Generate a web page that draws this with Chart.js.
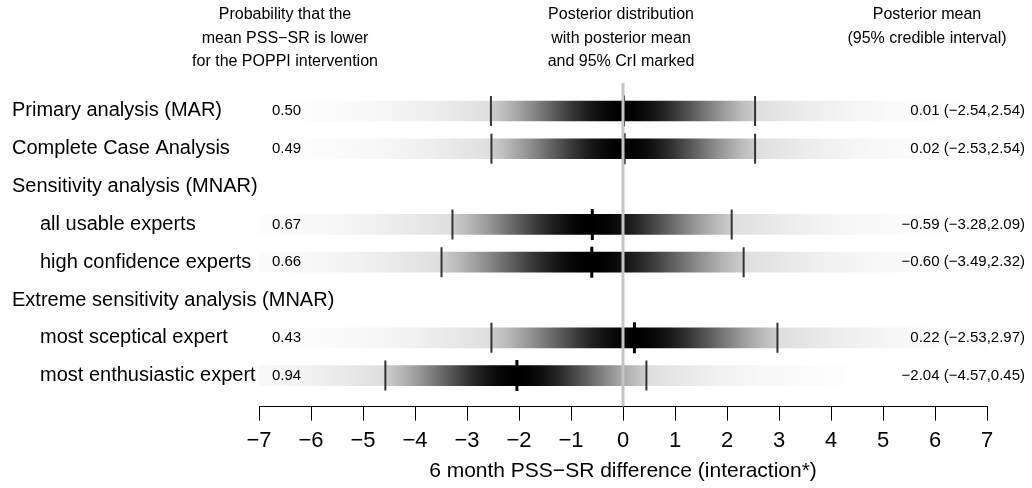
<!DOCTYPE html>
<html lang="en">
<head>
  <meta charset="UTF-8">
  <title>POPPI posterior summaries</title>
  <script src="https://cdn.jsdelivr.net/npm/chart.js"></script>
  <style>
    html, body { margin: 0; padding: 0; background: #fff; }
    #wrap { width: 1032px; height: 488px; }
  </style>
</head>
<body>
  <div id="wrap"><canvas id="strips" width="1032" height="488"></canvas></div>
  <script>
    // Rows, top to bottom (header rows have no data)
    var rowLabels = ['Primary analysis (MAR)', 'Complete Case Analysis', 'Sensitivity analysis (MNAR)',
                     'all usable experts', 'high confidence experts', 'Extreme sensitivity analysis (MNAR)',
                     'most sceptical expert', 'most enthusiastic expert'];
    var rowIndent = [0, 0, 0, 1, 1, 0, 1, 1];
    var probLower = [0.50, 0.49, null, 0.67, 0.66, null, 0.43, 0.94];
    var postMean  = [0.01, 0.02, null, -0.59, -0.60, null, 0.22, -2.04];
    var crLow     = [-2.54, -2.53, null, -3.28, -3.49, null, -2.53, -4.57];
    var crHigh    = [2.54, 2.54, null, 2.09, 2.32, null, 2.97, 0.45];
    var xTicks    = [-7, 7];

    var Z95 = 1.96;
    var SPAN = 5;   // strip runs out to +/- 5 sd
    var dEdge = Math.exp(-Z95 * Z95 / 2);

    function sdOf(i) {
      return [(postMean[i] - crLow[i]) / Z95, (crHigh[i] - postMean[i]) / Z95];
    }

    // grey level for a value inside the strip: dark inside the CrI, pale outside
    function shade(i, v) {
      var sd = sdOf(i);
      var z = (v - postMean[i]) / (v < postMean[i] ? sd[0] : sd[1]);
      var d = Math.exp(-z * z / 2);
      var g;
      if (Math.abs(z) <= Z95 + 1e-9) g = 255 * (1 - Math.pow(d, 0.85));
      else g = 255 - 33 * Math.pow(d / dEdge, 0.3);
      g = Math.round(Math.max(0, Math.min(255, g)));
      return 'rgb(' + g + ',' + g + ',' + g + ')';
    }

    function minus(v, dp) {
      var s = Math.abs(v).toFixed(dp);
      return v < 0 ? '\u2212' + s : s;
    }

    var stripData = [], ciData = [], meanData = [];
    rowLabels.forEach(function (lab, i) {
      if (postMean[i] === null) return;
      var sd = sdOf(i);
      stripData.push({ y: i, x: [postMean[i] - SPAN * sd[0], postMean[i] + SPAN * sd[1]], row: i });
      ciData.push({ x: crLow[i], y: i });
      ciData.push({ x: crHigh[i], y: i });
      meanData.push({ x: postMean[i], y: i });
    });

    var yMin = -0.74, yMax = 7.82;

    function stripFill(c) {
      var chart = c.chart;
      if (!chart.chartArea || c.raw === undefined) return '#ccc';
      var i = c.raw.row;
      var xs = chart.scales.x;
      var a = c.raw.x[0], b = c.raw.x[1];
      var pa = xs.getPixelForValue(a), pb = xs.getPixelForValue(b);
      var grad = chart.ctx.createLinearGradient(pa, 0, pb, 0);
      var n = 120;
      for (var k = 0; k <= n; k++) {
        var v = a + (b - a) * k / n;
        grad.addColorStop(k / n, shade(i, v));
      }
      // hard step at the interval ends
      [crLow[i], crHigh[i]].forEach(function (e) {
        var t = (e - a) / (b - a);
        var left = e < postMean[i];
        var inner = shade(i, e + (left ? 1e-6 : -1e-6));
        var outer = shade(i, e + (left ? -1e-3 : 1e-3));
        if (left) { grad.addColorStop(t, outer); grad.addColorStop(t, inner); }
        else { grad.addColorStop(t, inner); grad.addColorStop(t, outer); }
      });
      return grad;
    }

    var FONT = '"Liberation Sans", Arial, Helvetica, sans-serif';

    var textPlugin = {
      id: 'rowText',
      afterDraw: function (chart) {
        var ctx = chart.ctx;
        var ys = chart.scales.y;
        ctx.save();
        ctx.fillStyle = '#000';
        ctx.textBaseline = 'middle';

        // column headers
        ctx.font = '16px ' + FONT;
        ctx.textAlign = 'center';
        var heads = [
          [285, ['Probability that the', 'mean PSS\u2212SR is lower', 'for the POPPI intervention']],
          [621, ['Posterior distribution', 'with posterior mean', 'and 95% CrI marked']],
          [927, ['Posterior mean', '(95% credible interval)']]
        ];
        heads.forEach(function (h) {
          h[1].forEach(function (line, k) { ctx.fillText(line, h[0], 15 + 23.5 * k); });
        });

        rowLabels.forEach(function (lab, i) {
          var y = ys.getPixelForValue(i);
          ctx.font = '20px ' + FONT;
          ctx.textAlign = 'left';
          ctx.fillText(lab, rowIndent[i] ? 40 : 12, y);
          if (postMean[i] === null) return;
          ctx.font = '15px ' + FONT;
          ctx.fillText(probLower[i].toFixed(2), 272, y);
          ctx.textAlign = 'right';
          ctx.fillText(minus(postMean[i], 2) + ' (' + minus(crLow[i], 2) + ',' + minus(crHigh[i], 2) + ')', 1025, y);
        });
        ctx.restore();
      }
    };

    new Chart(document.getElementById('strips'), {
      type: 'bar',
      data: {
        datasets: [
          {
            type: 'line',
            data: [{ x: 0, y: yMin }, { x: 0, y: yMax }],
            borderColor: '#c4c4c4',
            borderWidth: 3,
            pointRadius: 0,
            order: 1
          },
          {
            type: 'scatter',
            data: meanData,
            pointStyle: 'line',
            rotation: 90,
            radius: 15.5,
            borderColor: '#000',
            borderWidth: 3,
            order: 2
          },
          {
            type: 'scatter',
            data: ciData,
            pointStyle: 'line',
            rotation: 90,
            radius: 15,
            borderColor: '#333',
            borderWidth: 2,
            order: 3
          },
          {
            type: 'bar',
            indexAxis: 'y',
            data: stripData,
            backgroundColor: stripFill,
            borderWidth: 0,
            barThickness: 20,
            order: 4
          }
        ]
      },
      options: {
        responsive: false,
        animation: false,
        events: [],
        layout: { padding: { left: 259, right: 45, top: 83, bottom: 0 } },
        plugins: { legend: { display: false }, tooltip: { enabled: false } },
        scales: {
          y: {
            type: 'linear', min: yMin, max: yMax, reverse: true, display: false,
            offset: false, grid: { offset: false }
          },
          x: {
            type: 'linear',
            min: xTicks[0],
            max: xTicks[1],
            offset: false,
            ticks: {
              stepSize: 1,
              padding: 7,
              color: '#000',
              font: { family: FONT, size: 22 },
              callback: function (v) { return minus(v, 0); }
            },
            grid: { offset: false, drawOnChartArea: false, drawTicks: true, tickLength: 14, color: '#000', lineWidth: 1 },
            border: { display: true, color: '#000', width: 1 },
            title: {
              display: true,
              text: '6 month PSS\u2212SR difference (interaction*)',
              color: '#000',
              font: { family: FONT, size: 21, lineHeight: 1.0 },
              padding: { top: 0, bottom: 6 }
            }
          }
        }
      },
      plugins: [textPlugin]
    });
  </script>
</body>
</html>
